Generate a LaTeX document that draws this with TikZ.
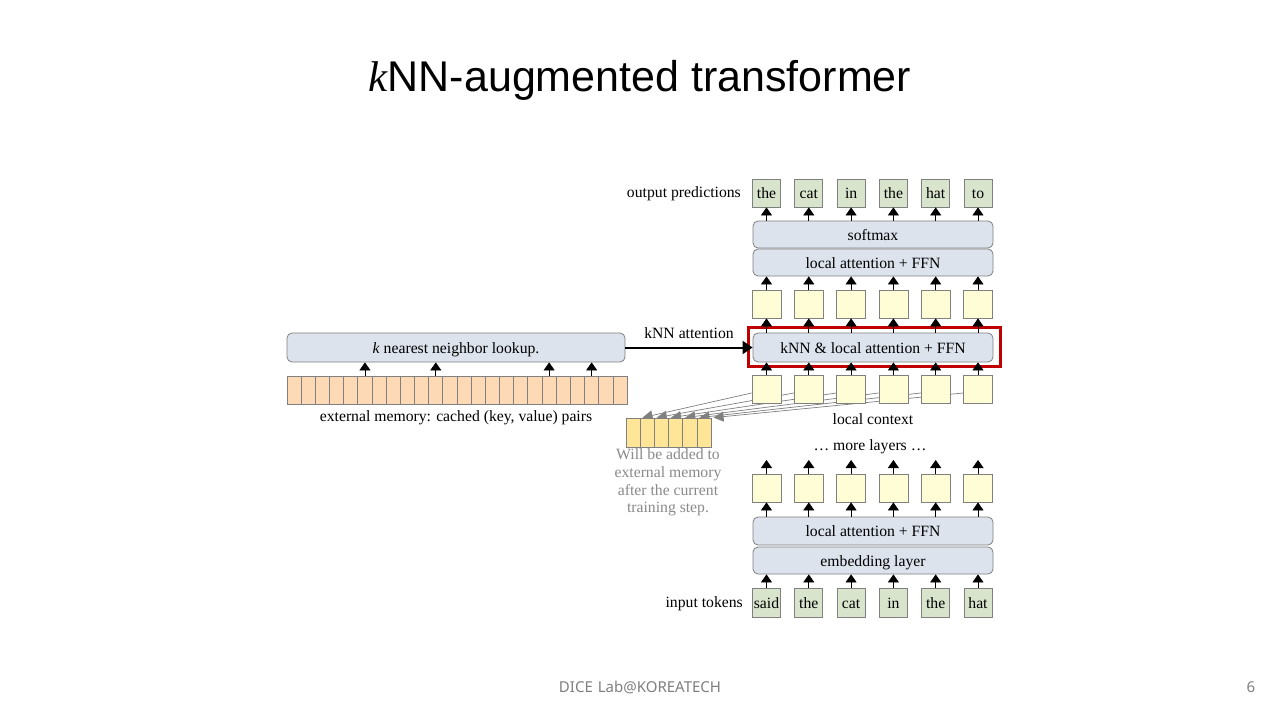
\documentclass[tikz,border=0pt]{standalone}
\usepackage{fontspec}
\setmainfont{Liberation Serif}
\newfontfamily\titlefont{Liberation Sans}
\newfontfamily\footfont{Noto Sans}
\usetikzlibrary{arrows.meta}
\pgfdeclarelayer{background}
\pgfsetlayers{background,main}

\definecolor{tokgreen}{HTML}{D9E4CC}
\definecolor{hidyellow}{HTML}{FEFDD6}
\definecolor{layerblue}{HTML}{DCE3ED}
\definecolor{memorange}{HTML}{FDD9B5}
\definecolor{cacheyellow}{HTML}{FFE597}
\definecolor{edgegray}{HTML}{808080}
\definecolor{notegray}{HTML}{8A8A8A}
\definecolor{hlred}{HTML}{C00000}
\definecolor{footgray}{HTML}{7F7F7F}

\begin{document}
\begin{tikzpicture}[x=1pt,y=-1pt,
  every node/.style={font=\fontsize{15.7}{18}\selectfont},
  cell/.style={draw=edgegray, line width=0.8pt, inner sep=0pt, text height=11.5pt, text depth=0pt},
  tok/.style={cell, fill=tokgreen, minimum width=28pt, minimum height=28pt},
  hid/.style={cell, fill=hidyellow, minimum width=29pt, minimum height=28pt},
  layer/.style={cell, fill=layerblue, rounded corners=5pt, minimum width=240pt, minimum height=27pt},
  memcell/.style={cell, fill=memorange, minimum width=14.17pt, minimum height=28pt},
  cachecell/.style={cell, fill=cacheyellow, minimum width=14.2pt, minimum height=29pt},
  arr/.style={-{Triangle[width=11pt,length=8pt]}, line width=0.8pt, black},
  bigarr/.style={-{Triangle[width=13pt,length=10pt]}, line width=2pt, black},
  garr/.style={-{Triangle[width=10pt,length=10pt]}, line width=0.7pt, edgegray},
  lbl/.style={inner sep=0pt}
]
% page
\begin{pgfonlayer}{background}
  \fill[white] (0,0) rectangle (1280,720);
\end{pgfonlayer}
\useasboundingbox (0,0) rectangle (1280,720);

% title and footer
\node[lbl, font=\titlefont\fontsize{43}{48}\selectfont] (title) at (640,80) {{\rmfamily\itshape k}NN-augmented transformer};
\node[lbl, font=\footfont\fontsize{15}{18}\selectfont, text=footgray] (footer) at (640,687) {DICE\,\,Lab@KOREATECH};
\node[lbl, font=\footfont\fontsize{15}{18}\selectfont, text=footgray] (pageno) at (1251,687) {6};

% column positions of the transformer stack
\foreach \i/\x in {1/766.5,2/808.8,3/851.1,4/893.4,5/935.7,6/978}{
  \coordinate (col\i) at (\x,0);
}

% output predictions
\foreach \i/\w in {1/the,2/cat,3/in,4/the,5/hat,6/to}{
  \node[tok] (out\i) at (col\i |- 0,193) {\w};
}
\node[lbl, anchor=east] (outlbl) at (741,193.5) {output predictions};

% upper layers
\node[layer] (softmax) at (873,234.5) {softmax};
\node[layer] (la1) at (873,262.5) {local attention + FFN};

% hidden rows
\foreach \i in {1,...,6}{
  \node[hid] (ha\i) at (col\i |- 0,304) {};
  \node[hid] (hb\i) at (col\i |- 0,389) {};
  \node[hid] (hc\i) at (col\i |- 0,488) {};
  \coordinate (up\i) at (col\i |- 0,460);
}

% kNN layer with highlight
\node[layer, minimum height=29pt] (knn) at (873,347.5) {kNN \& local attention + FFN};
\draw[hlred, line width=3pt] (748,327) rectangle (1000,366);

% lower layers
\node[layer, minimum height=28pt] (la2) at (873,531) {local attention + FFN};
\node[layer] (emb) at (873,560.5) {embedding layer};

% input tokens
\foreach \i/\w in {1/said,2/the,3/cat,4/in,5/the,6/hat}{
  \node[tok, minimum height=29pt] (in\i) at (col\i |- 0,602.5) {\w};
}
\node[lbl, anchor=east] (inlbl) at (743,604) {input tokens};

% vertical data flow
\foreach \i in {1,...,6}{
  \draw[arr] (softmax.north -| out\i) -- (out\i.south);
  \draw[arr] (ha\i.north) -- (la1.south -| ha\i);
  \draw[arr] (knn.north -| ha\i) -- (ha\i.south);
  \draw[arr] (hb\i.north) -- (knn.south -| hb\i);
  \draw[arr] (hc\i.north) -- (up\i);
  \draw[arr] (la2.north -| hc\i) -- (hc\i.south);
  \draw[arr] (in\i.north) -- (emb.south -| in\i);
}

% external memory
\node[cell, fill=layerblue, rounded corners=5pt, minimum width=338pt, minimum height=29pt] (lookup) at (456,347.5) {\textit{k} nearest neighbor lookup.};
\foreach \i in {1,...,24}{
  \node[memcell] (m\i) at ({287+(\i-0.5)*14.17},390) {};
}
\foreach \i in {6,11,19,22}{
  \draw[arr] (m\i.north) -- (lookup.south -| m\i);
}
\node[lbl] (memlbl) at (456,418) {external memory: cached (key, value) pairs};

% kNN attention connector
\draw[bigarr] (lookup.east) -- (knn.west);
\node[lbl] (knnlbl) at (689,333) {kNN attention};

% local context and cache of new pairs
\node[lbl] (ctxlbl) at (873,419) {local context};
\node[lbl] (morelbl) at (870,447) {\dots{} more layers \dots};
\foreach \i in {1,...,6}{
  \node[cachecell] (c\i) at ({626+(\i-0.5)*14.2},432.5) {};
}
\begin{pgfonlayer}{background}
  \foreach \i in {1,...,6}{
    \draw[garr] ([yshift=-4pt]hb\i.west) -- ([xshift=2pt]c\i.north east);
  }
\end{pgfonlayer}
\node[lbl, text=notegray, align=center, font=\fontsize{15.7}{17.7}\selectfont] (note) at (668,482.5)
  {Will be added to\\external memory\\after the current\\training step.};
\end{tikzpicture}
\end{document}
